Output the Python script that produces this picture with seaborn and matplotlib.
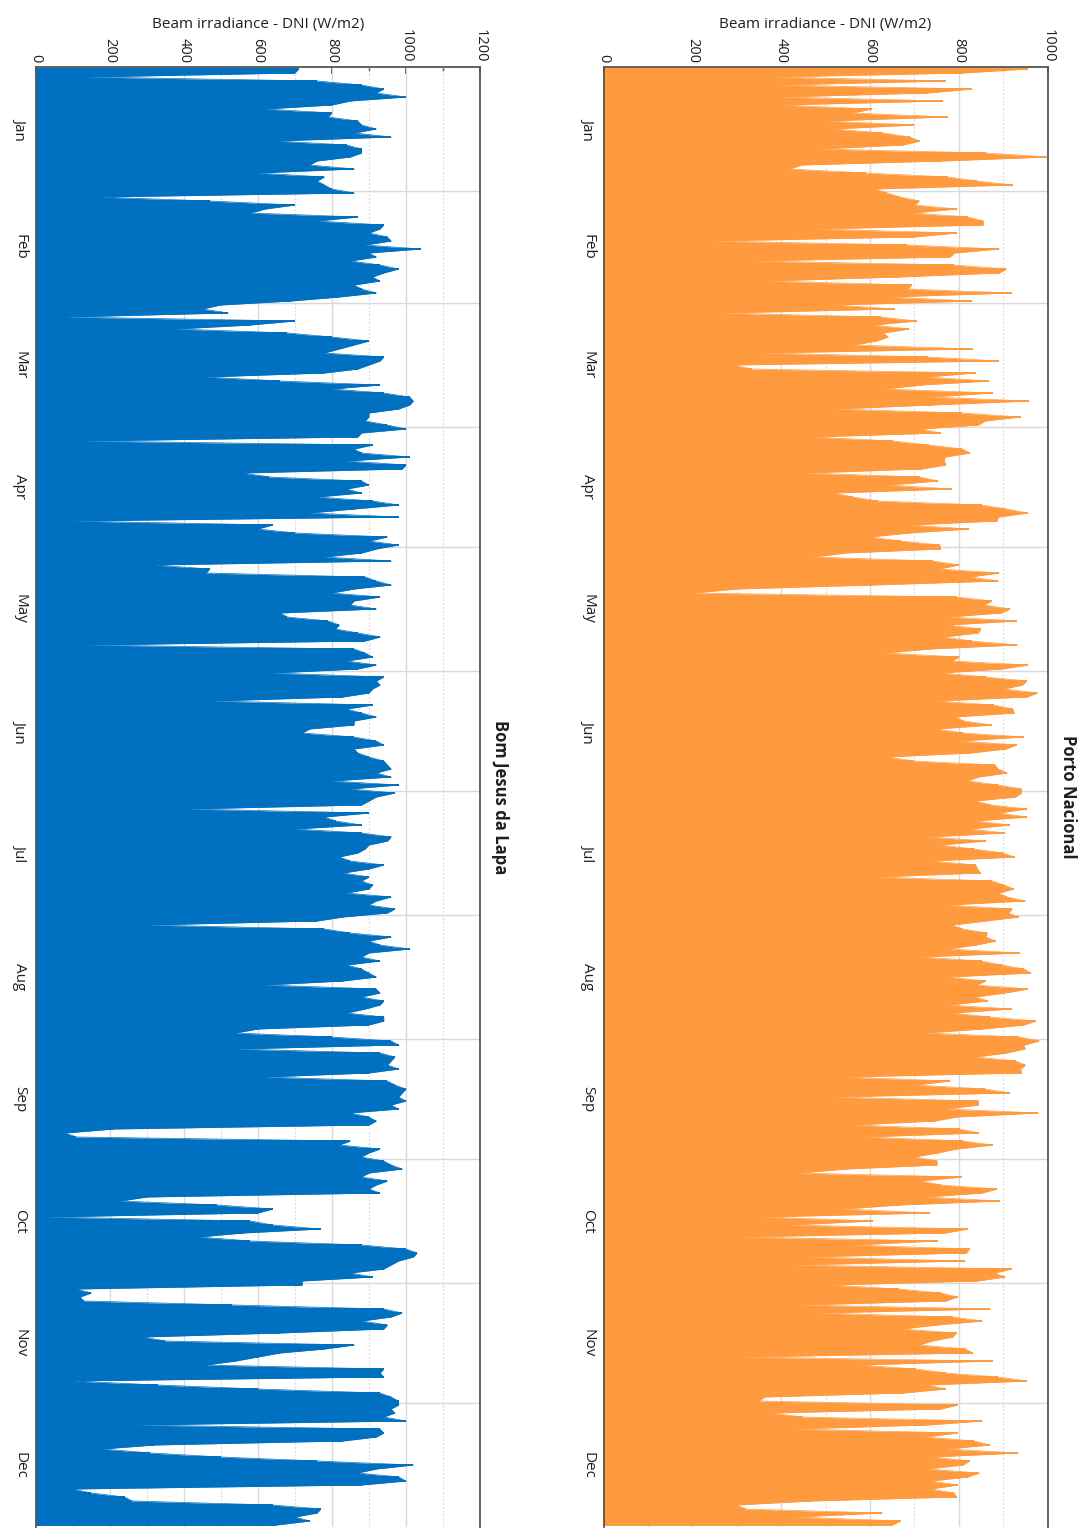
import numpy as np
import pandas as pd
import matplotlib
matplotlib.use("Agg")
import matplotlib.pyplot as plt
import seaborn as sns

# Daily peak beam irradiance (DNI, W/m2), one list per month
months = ["Jan", "Feb", "Mar", "Apr", "May", "Jun", "Jul", "Aug", "Sep", "Oct", "Nov", "Dec"]

porto_nacional = [
    [955, 810, 382, 770, 390, 830, 730, 400, 765, 400, 605, 560, 775, 500, 700, 517, 630, 690, 712, 675,
     487, 860, 1000, 763, 446, 420, 592, 776, 840, 921, 611],
    [639, 667, 711, 701, 796, 696, 820, 855, 855, 478, 795, 700, 247, 684, 891, 791, 780, 334, 789, 907,
     891, 665, 367, 694, 684, 919, 641, 829],
    [521, 656, 266, 624, 705, 607, 688, 630, 641, 615, 564, 831, 360, 730, 891, 294, 334, 838, 725, 868,
     716, 634, 877, 735, 958, 740, 522, 808, 939, 859, 844],
    [716, 759, 472, 652, 733, 808, 825, 769, 767, 771, 716, 454, 712, 754, 641, 784, 520, 562, 617, 851,
     907, 956, 889, 886, 691, 823, 688, 600, 670, 757],
    [759, 547, 471, 742, 800, 756, 891, 825, 889, 606, 300, 202, 795, 874, 857, 915, 896, 776, 930, 776,
     849, 844, 765, 829, 932, 735, 634, 801, 784, 956, 896],
    [761, 860, 953, 943, 902, 977, 953, 750, 878, 921, 925, 791, 812, 875, 750, 809, 947, 803, 930, 906,
     827, 639, 698, 881, 889, 909, 844, 820, 889, 941],
    [941, 928, 838, 872, 954, 889, 954, 838, 915, 825, 904, 731, 861, 759, 834, 899, 926, 739, 838, 842,
     849, 615, 875, 902, 924, 889, 909, 950, 773, 920, 911],
    [935, 861, 785, 809, 864, 861, 883, 840, 776, 938, 713, 851, 896, 947, 962, 776, 861, 840, 956, 904,
     838, 866, 774, 919, 785, 870, 973, 947, 853, 725, 936],
    [981, 947, 949, 907, 838, 928, 950, 939, 941, 542, 780, 703, 859, 915, 517, 844, 844, 774, 979, 795,
     746, 562, 802, 846, 587, 809, 876, 795, 752, 700],
    [751, 751, 549, 440, 806, 714, 760, 886, 853, 725, 892, 667, 540, 735, 360, 607, 418, 821, 769, 309,
     754, 559, 824, 817, 455, 814, 426, 919, 881, 904, 842],
    [512, 665, 760, 797, 771, 442, 871, 486, 786, 853, 751, 671, 795, 786, 740, 711, 815, 832, 311, 876,
     576, 703, 772, 887, 954, 731, 770, 676, 362, 351],
    [797, 760, 377, 448, 853, 729, 426, 797, 725, 835, 870, 772, 934, 740, 824, 809, 729, 846, 820, 737,
     797, 737, 789, 795, 467, 300, 320, 628, 431, 669, 650],
]

bom_jesus_da_lapa = [
    [710, 700, 140, 760, 880, 940, 920, 1000, 850, 800, 620, 800, 790, 870, 880, 920, 860, 960, 650, 840,
     880, 880, 850, 760, 740, 860, 600, 780, 760, 780, 800],
    [860, 170, 470, 700, 620, 580, 870, 760, 940, 930, 900, 950, 960, 890, 1040, 900, 920, 850, 930, 980,
     940, 910, 930, 860, 880, 920, 820, 690],
    [500, 450, 520, 80, 700, 580, 380, 680, 800, 900, 860, 820, 780, 940, 930, 900, 870, 780, 460, 660,
     930, 800, 940, 1010, 1020, 1010, 980, 900, 900, 890, 950],
    [1000, 880, 870, 130, 910, 860, 880, 1010, 840, 1000, 990, 560, 630, 880, 900, 840, 880, 760, 910, 980,
     860, 740, 980, 100, 640, 600, 700, 950, 900, 980],
    [920, 880, 780, 960, 320, 470, 460, 890, 920, 960, 860, 800, 930, 860, 850, 920, 660, 680, 790, 820,
     810, 870, 930, 890, 140, 860, 890, 910, 840, 920, 870],
    [640, 940, 920, 930, 910, 900, 830, 480, 910, 840, 880, 920, 860, 860, 740, 720, 860, 920, 940, 860,
     870, 900, 940, 950, 960, 920, 960, 800, 980, 850],
    [970, 920, 900, 880, 410, 900, 780, 810, 880, 700, 880, 960, 950, 900, 890, 870, 820, 850, 940, 900,
     830, 900, 880, 910, 900, 840, 960, 920, 900, 970, 950],
    [830, 760, 300, 780, 850, 960, 900, 930, 1010, 900, 880, 930, 840, 880, 900, 920, 830, 620, 920, 930,
     880, 940, 930, 890, 840, 940, 940, 900, 600, 540, 800],
    [960, 980, 540, 930, 970, 960, 950, 980, 900, 620, 950, 970, 1000, 990, 980, 1000, 960, 980, 850, 900,
     920, 900, 210, 80, 110, 850, 820, 930, 900, 880],
    [940, 960, 990, 900, 880, 950, 920, 900, 930, 300, 230, 490, 640, 600, 30, 580, 640, 770, 560, 440,
     580, 880, 1000, 1030, 1020, 980, 960, 940, 850, 910, 720],
    [720, 110, 150, 120, 130, 530, 940, 990, 960, 880, 950, 940, 660, 290, 350, 860, 780, 660, 600, 540,
     460, 940, 930, 940, 100, 330, 600, 930, 960, 980],
    [980, 960, 970, 940, 1000, 270, 930, 940, 920, 830, 320, 180, 310, 500, 760, 1020, 920, 870, 980, 1000,
     880, 100, 150, 240, 260, 640, 770, 760, 700, 740, 650],
]

sns.set_theme(style="white")
plt.rcParams["font.family"] = ["Open Sans", "DejaVu Sans"]

TEXT = "#1f1f1f"
GRID = "#d9d9d9"


def to_frame(month_lists):
    rows = []
    day = 0
    for m, vals in zip(months, month_lists):
        for v in vals:
            rows.append({"day": day + 0.5, "month": m, "dni": v})
            day += 1
    return pd.DataFrame(rows)


def month_edges(month_lists):
    lengths = [len(v) for v in month_lists]
    return np.concatenate([[0], np.cumsum(lengths)])


def draw_panel(ax, month_lists, color, xmax, title):
    df = to_frame(month_lists)
    edges = month_edges(month_lists)
    # area under the daily peaks, plus a thin bar per day for the spiky tips
    ax.fill_betweenx(df["day"], 0, df["dni"], color=color, linewidth=0, zorder=2)
    ax.barh(df["day"], df["dni"], height=0.45, color=color, linewidth=0, zorder=2)
    sns.lineplot(data=df, x="dni", y="day", orient="y", sort=False, color=color,
                 linewidth=0.5, ax=ax, zorder=3, estimator=None)

    ax.set_xlim(0, xmax)
    ax.set_ylim(edges[-1], 0)

    # irradiance axis on top, rotated labels
    ax.xaxis.tick_top()
    ax.xaxis.set_label_position("top")
    ax.set_xticks(np.arange(0, xmax + 1, 200))
    ax.set_xticks(np.arange(100, xmax, 200), minor=True)
    ax.set_xticklabels([str(v) for v in range(0, xmax + 1, 200)], rotation=-90,
                       fontsize=10.5, color=TEXT)
    ax.tick_params(axis="x", which="major", direction="in", length=5, width=1.2,
                   color="#333333", pad=3, top=True, bottom=False)
    ax.tick_params(axis="x", which="minor", direction="in", length=3, width=1,
                   color="#333333", top=True, bottom=False)
    ax.set_xlabel("Beam irradiance - DNI (W/m2)", fontsize=11, color=TEXT, labelpad=1)

    # months along the left side
    ax.set_yticks(edges[1:-1])
    ax.set_yticklabels([])
    centers = (edges[:-1] + edges[1:]) / 2
    ax.set_yticks(centers, minor=True)
    ax.set_yticklabels(months, minor=True, rotation=-90, fontsize=11, color=TEXT,
                       va="center")
    ax.tick_params(axis="y", which="major", direction="in", length=5, width=1.5,
                   color="#333333", left=True)
    ax.tick_params(axis="y", which="minor", length=0, pad=6)
    ax.set_ylabel("")

    # grid
    ax.grid(False)
    for v in range(200, xmax + 1, 200):
        ax.axvline(v, color=GRID, linewidth=1.0, zorder=1)
    for v in range(100, xmax, 200):
        ax.axvline(v, color=GRID, linewidth=0.9, linestyle=(0, (1.5, 1.5)), zorder=1)
    for e in edges[1:-1]:
        ax.axhline(e, color=GRID, linewidth=1.0, zorder=1)

    for side in ["left", "top", "right"]:
        ax.spines[side].set_visible(True)
        ax.spines[side].set_color("#555555")
        ax.spines[side].set_linewidth(1.3)
    ax.spines["bottom"].set_visible(False)

    ax.text(1.045, 0.5, title, transform=ax.transAxes, rotation=-90,
            ha="center", va="center", fontsize=12, fontweight="bold", color=TEXT)


W, H = 1083, 1529
fig = plt.figure(figsize=(W / 100, H / 100), dpi=100)
ax_porto = fig.add_axes([603.5 / W, 2 / H, 444.2 / W, 1460 / H])
ax_lapa = fig.add_axes([35.7 / W, 2 / H, 444.3 / W, 1460 / H])

draw_panel(ax_porto, porto_nacional, "#FF9A3E", 1000, "Porto Nacional")
draw_panel(ax_lapa, bom_jesus_da_lapa, "#0070C0", 1200, "Bom Jesus da Lapa")

fig.savefig("out.png", dpi=100)
